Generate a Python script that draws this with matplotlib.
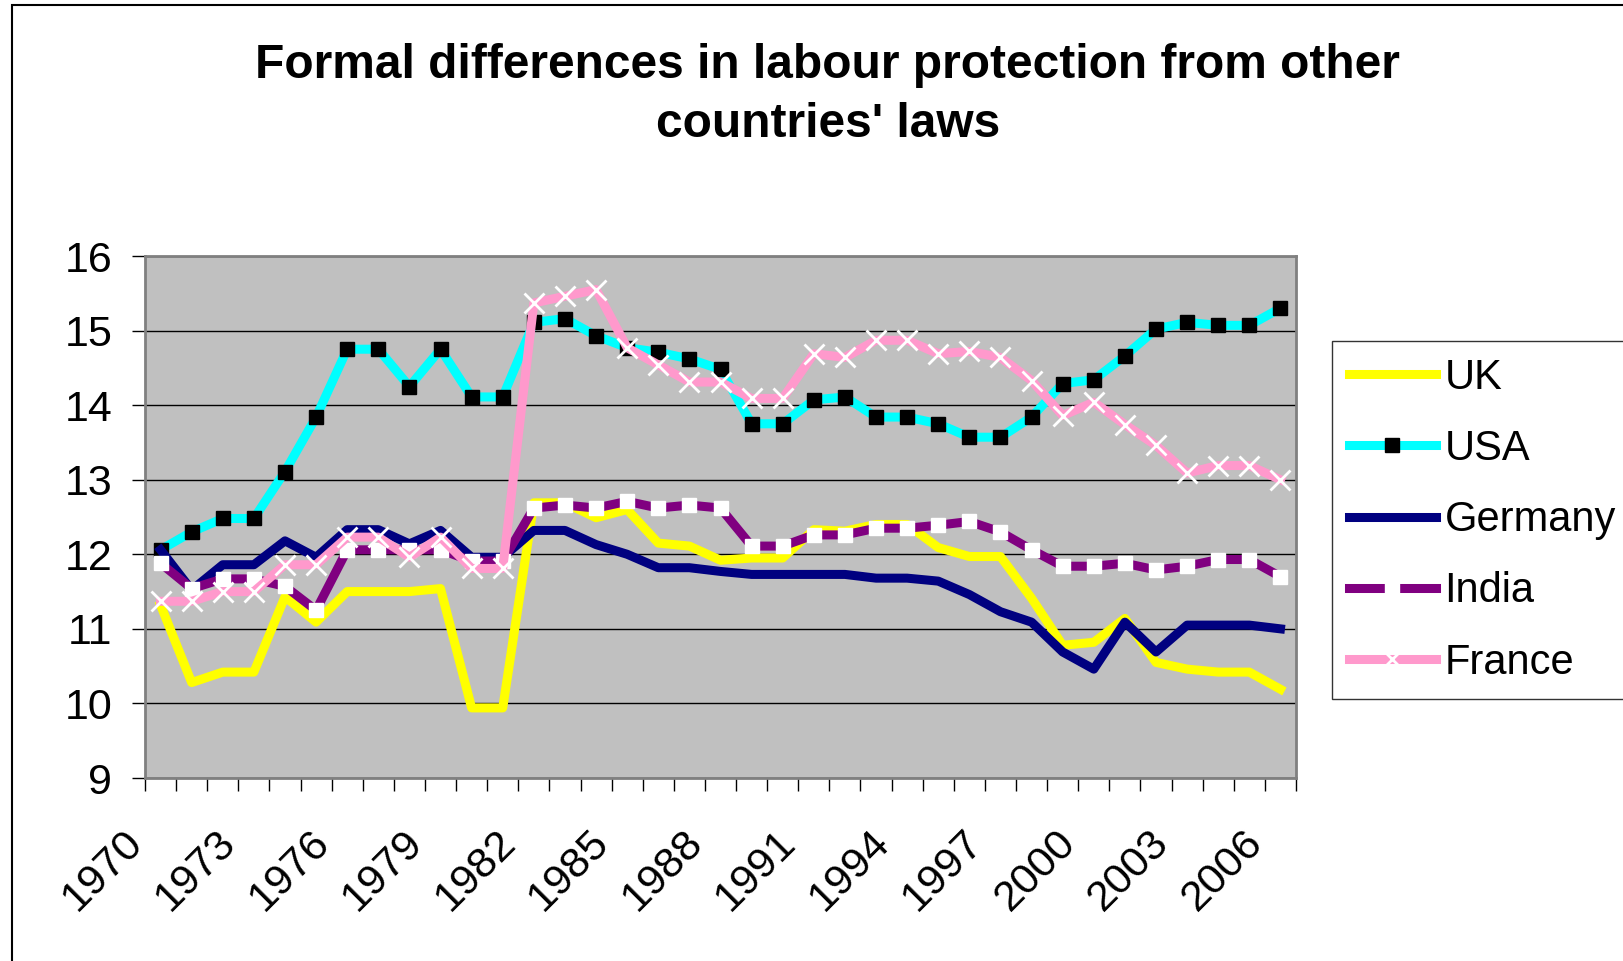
import matplotlib.pyplot as plt
import matplotlib.transforms as mtransforms
import numpy as np
from matplotlib.patches import Rectangle

plt.rcParams['font.family'] = ['Liberation Sans', 'DejaVu Sans']

years = list(range(1970, 2007))
uk = [11.32, 10.28, 10.42, 10.42, 11.43, 11.09, 11.50, 11.50, 11.50, 11.54, 9.94, 9.94,
      12.69, 12.69, 12.49, 12.60, 12.15, 12.11, 11.92, 11.95, 11.95, 12.33, 12.31, 12.40, 12.40,
      12.09, 11.97, 11.97, 11.41, 10.78, 10.82, 11.14, 10.55, 10.46, 10.42, 10.42, 10.19]
usa = [12.06, 12.30, 12.48, 12.48, 13.11, 13.84, 14.75, 14.75, 14.25, 14.75, 14.11, 14.11,
       15.11, 15.16, 14.93, 14.77, 14.71, 14.62, 14.48, 13.75, 13.75, 14.07, 14.11, 13.84, 13.84,
       13.75, 13.57, 13.57, 13.84, 14.29, 14.34, 14.66, 15.02, 15.11, 15.07, 15.07, 15.30]
germany = [12.06, 11.52, 11.86, 11.86, 12.18, 11.96, 12.33, 12.33, 12.14, 12.32, 11.96, 11.96,
           12.32, 12.32, 12.13, 12.00, 11.82, 11.82, 11.77, 11.73, 11.73, 11.73, 11.73, 11.68, 11.68,
           11.64, 11.46, 11.23, 11.09, 10.69, 10.46, 11.09, 10.69, 11.05, 11.05, 11.05, 11.00]
india = [11.88, 11.54, 11.67, 11.67, 11.57, 11.25, 12.06, 12.06, 12.06, 12.06, 11.91, 11.91,
         12.62, 12.66, 12.62, 12.71, 12.62, 12.66, 12.62, 12.11, 12.11, 12.26, 12.26, 12.35, 12.35,
         12.39, 12.44, 12.30, 12.06, 11.84, 11.84, 11.88, 11.79, 11.84, 11.93, 11.93, 11.70]
france = [11.37, 11.37, 11.50, 11.50, 11.86, 11.86, 12.23, 12.23, 11.96, 12.23, 11.81, 11.81,
          15.37, 15.46, 15.55, 14.77, 14.54, 14.31, 14.31, 14.09, 14.09, 14.69, 14.64, 14.87, 14.87,
          14.69, 14.72, 14.64, 14.33, 13.86, 14.04, 13.74, 13.46, 13.09, 13.19, 13.19, 13.00]
year_labels = [str(y) for y in years[::3]]

fig = plt.figure(figsize=(16.23, 9.61), dpi=100)
ax = fig.add_axes([145/1623, 1-778/961, (1296-145)/1623, (778-256)/961])
ax.set_facecolor('#C0C0C0')

x = np.arange(len(years))
lw = 6.5
ax.plot(x, uk, color='#FFFF00', lw=lw, label='UK')
ax.plot(x, usa, color='#00FFFF', lw=lw, marker='s', ms=9.5, mfc='black', mec='black',
        label='USA')
ax.plot(x, germany, color='#000080', lw=lw, label='Germany')
ax.plot(x, india, color='#800080', lw=lw, marker='s', ms=9.5, mfc='white', mec='white',
        label='India')
ax.plot(x, france, color='#FF99CC', lw=lw, marker='x', ms=14, mew=2, mec='white',
        label='France')

ax.set_xlim(-0.5, len(years) - 0.5)
ax.set_ylim(9, 16)
ax.set_yticks(range(9, 17))
ax.yaxis.grid(True, color='black', lw=1)
ax.set_axisbelow(True)

ax.set_xticks(x[::3])
ax.set_xticklabels(year_labels, rotation=45, ha='right', va='top', fontsize=31)
ax.set_xticks(np.arange(-0.5, len(years)), minor=True)
ax.tick_params(axis='x', which='major', length=0, pad=32)
ax.tick_params(axis='x', which='minor', length=9.5, width=1, color='black')
ax.tick_params(axis='y', length=9.5, width=1, pad=14, labelsize=31)
offset = mtransforms.ScaledTranslation(-10/100, 0, fig.dpi_scale_trans)
for lab in ax.get_xticklabels():
    lab.set_transform(lab.get_transform() + offset)

for s in ax.spines.values():
    s.set_color('#808080')
    s.set_linewidth(2)

fig.text(0.51, 1-95/961, "Formal differences in labour protection from other\ncountries' laws",
         ha='center', va='center', fontsize=34.5, fontweight='bold', linespacing=1.38)

leg = ax.legend(loc='upper left', bbox_to_anchor=(1332/1623, 1-341/961),
                bbox_transform=fig.transFigure, fontsize=30, frameon=True, fancybox=False,
                edgecolor='black', handlelength=2.1, handletextpad=0.2, labelspacing=0.75,
                borderpad=0.4, borderaxespad=0)
leg.get_frame().set_linewidth(1)

fig.patches.append(Rectangle((12/1623, -0.1), 1.2, 1.1 - 5/961, transform=fig.transFigure,
                             fill=False, edgecolor='black', lw=1.5))

fig.savefig('out.png', dpi=100)
